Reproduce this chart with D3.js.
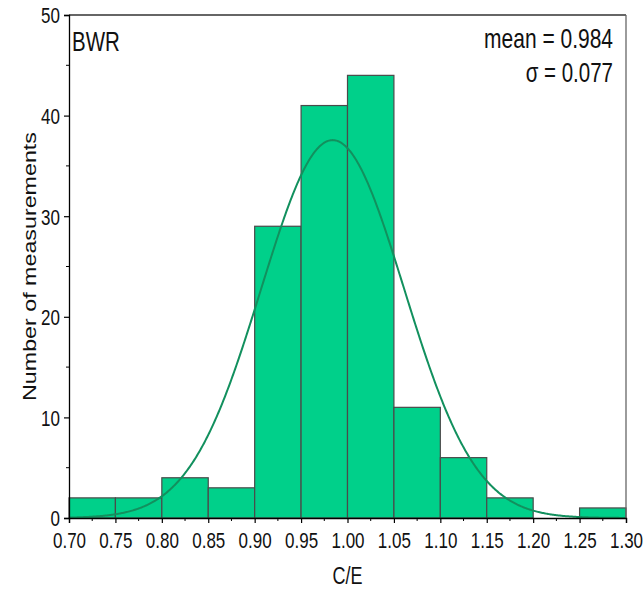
<!DOCTYPE html>
<html>
<head>
<meta charset="utf-8">
<script src="https://cdn.jsdelivr.net/npm/d3@7"></script>
<style>
  html, body { margin: 0; padding: 0; background: #fff; }
  svg { display: block; font-family: "Liberation Sans", Arial, sans-serif; }
</style>
</head>
<body>
<svg id="chart" width="644" height="590"></svg>
<script>
// Histogram of calculated-to-experimental ratios (C/E), BWR set
const binStarts = [0.70, 0.75, 0.80, 0.85, 0.90, 0.95, 1.00, 1.05, 1.10, 1.15, 1.20, 1.25];
const binWidth = 0.05;
const counts = [2, 2, 4, 3, 29, 41, 44, 11, 6, 2, 0, 1];
const xTicks = [0.70, 0.75, 0.80, 0.85, 0.90, 0.95, 1.00, 1.05, 1.10, 1.15, 1.20, 1.25, 1.30];
const yTicks = [0, 10, 20, 30, 40, 50];
const fitMean = 0.984;
const fitSigma = 0.077;

// glyphs are drawn tall and narrow: vertical stretch factor for all text
const TS = 1.33;

const svg = d3.select("#chart");
const margin = { left: 69, right: 18, top: 15, bottom: 72 };
const W = 644, H = 590;
const x = d3.scaleLinear().domain([0.70, 1.30]).range([margin.left, W - margin.right]);
const y = d3.scaleLinear().domain([0, 50]).range([H - margin.bottom, margin.top]);

// bars
svg.append("g").selectAll("rect")
  .data(binStarts.map((s, i) => ({ s, c: counts[i] })).filter(d => d.c > 0))
  .join("rect")
  .attr("x", d => x(d.s))
  .attr("y", d => y(d.c))
  .attr("width", d => x(d.s + binWidth) - x(d.s))
  .attr("height", d => y(0) - y(d.c))
  .attr("fill", "#00d08a")
  .attr("stroke", "#4a4a4a")
  .attr("stroke-width", 1.2);

// fitted normal curve scaled to counts
const total = d3.sum(counts);
const amp = total * binWidth / (fitSigma * Math.sqrt(2 * Math.PI));
const curvePts = d3.range(0, 601).map(i => {
  const v = 0.70 + i * 0.001;
  return [v, amp * Math.exp(-0.5 * Math.pow((v - fitMean) / fitSigma, 2))];
});
svg.append("path")
  .datum(curvePts)
  .attr("fill", "none")
  .attr("stroke", "#12905e")
  .attr("stroke-width", 2)
  .attr("d", d3.line().x(d => x(d[0])).y(d => y(d[1])));

// frame: top and right borders
svg.append("line").attr("x1", x(0.70)).attr("x2", x(1.30)).attr("y1", y(50)).attr("y2", y(50))
  .attr("stroke", "#333").attr("stroke-width", 1.3);
svg.append("line").attr("x1", x(1.30)).attr("x2", x(1.30)).attr("y1", y(50)).attr("y2", y(0))
  .attr("stroke", "#666").attr("stroke-width", 1.3);

// minor ticks
const minorX = d3.range(0, 12).map(i => 0.725 + i * 0.05);
svg.append("g").selectAll("line").data(minorX).join("line")
  .attr("x1", d => x(d)).attr("x2", d => x(d))
  .attr("y1", y(0)).attr("y2", y(0) + 3)
  .attr("stroke", "#000").attr("stroke-width", 1);
const minorY = [5, 15, 25, 35, 45];
svg.append("g").selectAll("line").data(minorY).join("line")
  .attr("x1", x(0.70) - 3).attr("x2", x(0.70))
  .attr("y1", d => y(d)).attr("y2", d => y(d))
  .attr("stroke", "#000").attr("stroke-width", 1);

// axes
const xAxis = svg.append("g").attr("transform", `translate(0,${y(0)})`)
  .call(d3.axisBottom(x).tickValues(xTicks).tickFormat(d3.format(".2f")).tickSizeOuter(0).tickSize(5));
const yAxis = svg.append("g").attr("transform", `translate(${x(0.70)},0)`)
  .call(d3.axisLeft(y).tickValues(yTicks).tickSizeOuter(0).tickSize(5));
[xAxis, yAxis].forEach(a => {
  a.select(".domain").attr("stroke", "#000").attr("stroke-width", 1.3);
  a.selectAll(".tick line").attr("stroke", "#000").attr("stroke-width", 1.2);
  a.selectAll(".tick text").attr("font-size", 17).attr("fill", "#111")
    .attr("font-family", "Liberation Sans, Arial, sans-serif");
});
xAxis.selectAll(".tick text").attr("y", 10.5).attr("dy", "0.71em")
  .attr("transform", `scale(1,${TS})`);
yAxis.selectAll(".tick text").attr("x", -9).attr("dy", "0.35em")
  .attr("transform", `scale(1,${TS})`);

// horizontal text with vertical stretch, positioned by baseline
function label(px, py, str, size, anchor) {
  return svg.append("text")
    .attr("transform", `translate(${px},${py}) scale(1,${TS})`)
    .attr("text-anchor", anchor || "start")
    .attr("font-size", size).attr("fill", "#111").text(str);
}

// axis titles
label((x(0.70) + x(1.30)) / 2, 584, "C/E", 18, "middle");
svg.append("text")
  .attr("transform", `translate(36,${(y(0) + y(50)) / 2}) rotate(-90) scale(${TS},1)`)
  .attr("text-anchor", "middle").attr("font-size", 17.5).attr("fill", "#111")
  .text("Number of measurements");

// annotations
label(72, 51, "BWR", 20.5);
label(613, 48, `mean = ${fitMean}`, 21, "end");
label(613, 82, `σ = ${fitSigma}`, 20.5, "end");
</script>
</body>
</html>
